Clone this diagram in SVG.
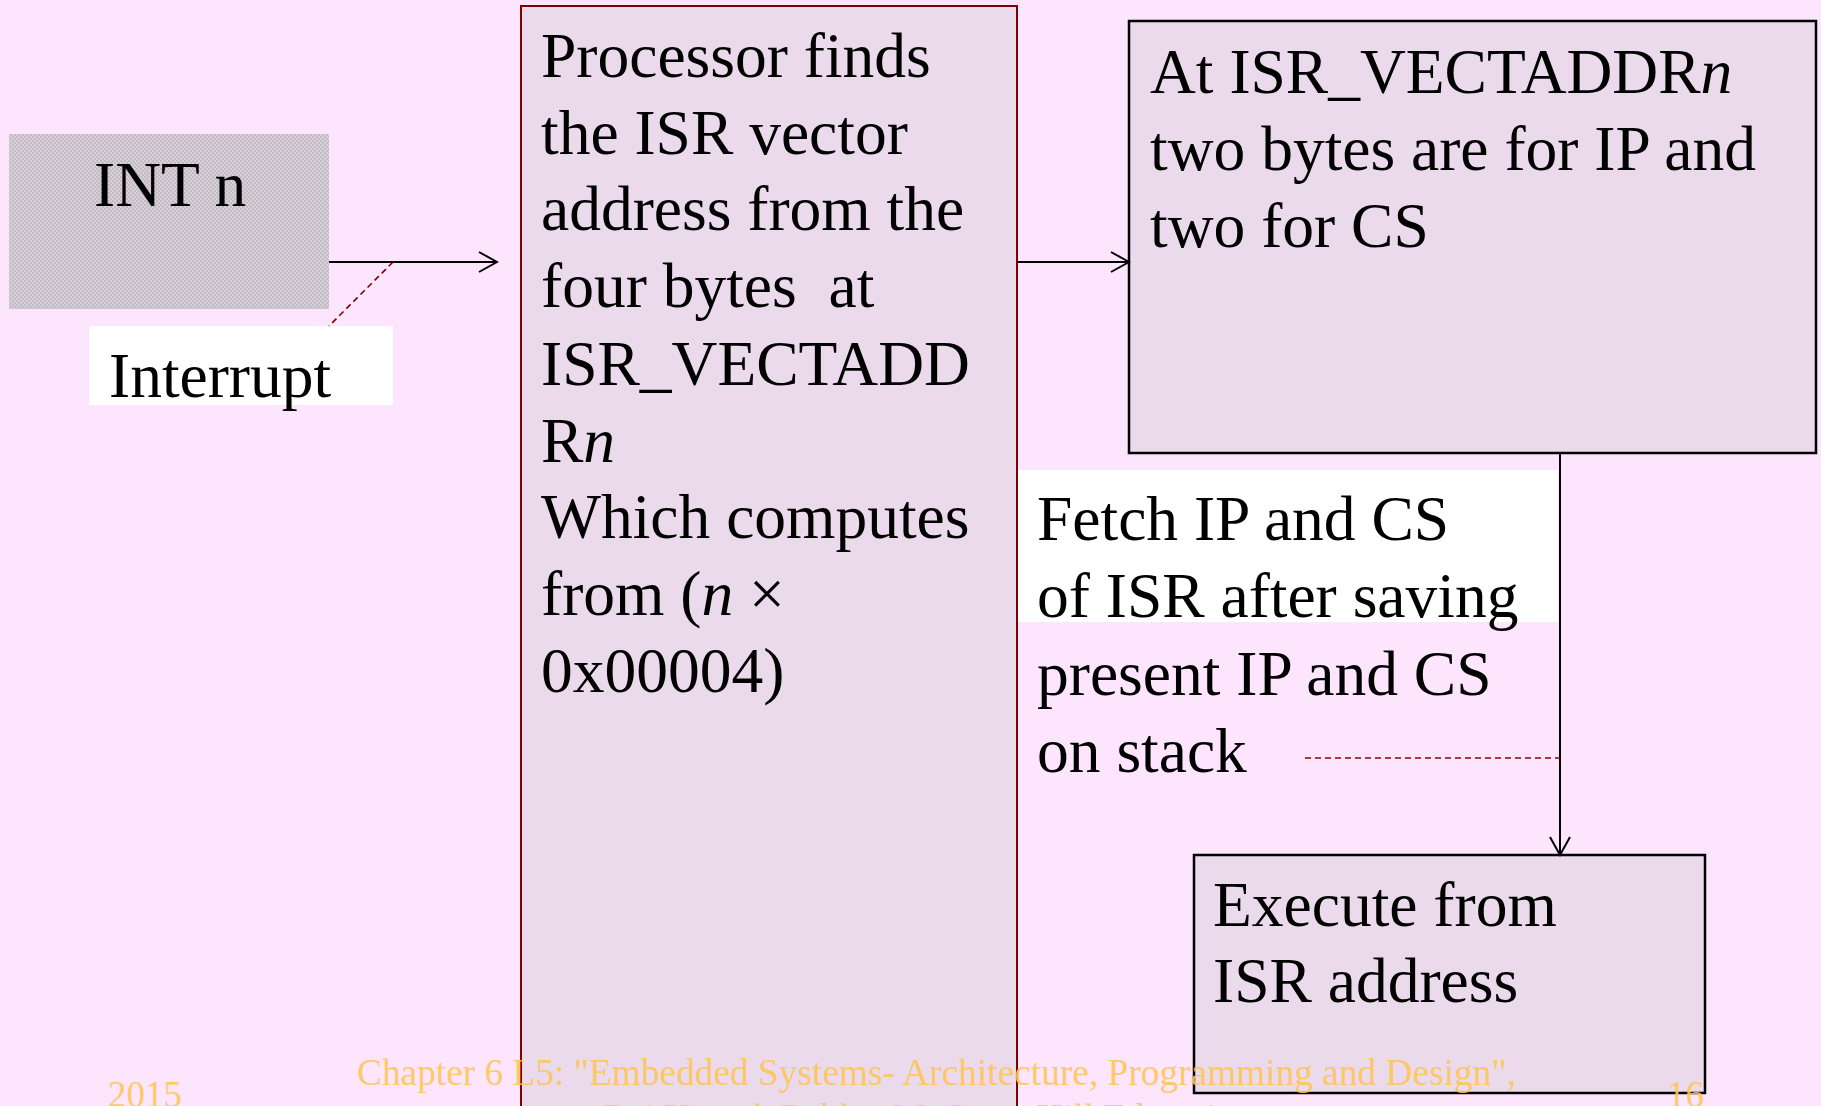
<svg xmlns="http://www.w3.org/2000/svg" width="1821" height="1106" viewBox="0 0 1821 1106">
<style>
.t{font-family:"Liberation Serif","Times New Roman",serif;font-size:63.5px;fill:#000}
.it{font-style:italic}
.foot{font-family:"Liberation Serif","Times New Roman",serif;font-size:37px;fill:#FFC552;fill-opacity:0.88}
.box{fill:#EBDAEC;stroke:#000;stroke-width:2.5}
.conn{stroke:#000;stroke-width:2;fill:none}
.callout{stroke:#8B0000;stroke-width:1.6;stroke-dasharray:6 4;fill:none}
</style>
<defs>
<pattern id="chk" width="4" height="4" patternUnits="userSpaceOnUse">
<rect width="4" height="4" fill="#D8D0D8"/>
<rect width="2" height="2" fill="#C4BAC4"/>
<rect x="2" y="2" width="2" height="2" fill="#C4BAC4"/>
</pattern>
<marker id="arr" markerWidth="22" markerHeight="24" refX="20" refY="12" orient="auto" markerUnits="userSpaceOnUse">
<path d="M2,2 L20,12 L2,22" fill="none" stroke="#000" stroke-width="2"/>
</marker>
</defs>
<rect width="1821" height="1106" fill="#FDE5FD"/>

<g id="int-n">
<rect x="9" y="134" width="320" height="175" fill="url(#chk)"/>
<text class="t" x="94" y="206">INT n</text>
</g>

<g id="interrupt-label">
<rect x="89" y="326" width="304" height="79" fill="#FFFFFF"/>
<text class="t" x="109" y="397">Interrupt</text>
</g>

<g id="processor">
<rect x="521" y="6" width="496" height="1120" fill="#EBDAEC" stroke="#800000" stroke-width="2"/>
<text class="t" xml:space="preserve"><tspan x="541" y="77">Processor finds</tspan><tspan x="541" y="154">the ISR vector</tspan><tspan x="541" y="230">address from the</tspan><tspan x="541" y="307">four bytes  at</tspan><tspan x="541" y="385">ISR_VECTADD</tspan><tspan x="541" y="462">R<tspan class="it">n</tspan></tspan><tspan x="541" y="538">Which computes</tspan><tspan x="541" y="615">from (<tspan class="it">n</tspan> ×</tspan><tspan x="541" y="692">0x00004)</tspan></text>
</g>

<g id="vectaddr">
<rect class="box" x="1129" y="21" width="687" height="432" stroke-width="2"/>
<text class="t">
<tspan x="1150" y="93">At ISR_VECTADDR<tspan class="it">n</tspan></tspan>
<tspan x="1150" y="170">two bytes are for IP and</tspan>
<tspan x="1150" y="247">two for CS</tspan>
</text>
</g>

<g id="fetch-label">
<rect x="1018" y="470" width="540" height="152" fill="#FFFFFF"/>
<text class="t">
<tspan x="1037" y="540">Fetch IP and CS</tspan>
<tspan x="1037" y="617">of ISR after saving</tspan>
<tspan x="1037" y="695">present IP and CS</tspan>
<tspan x="1037" y="772">on stack</tspan>
</text>
</g>

<g id="execute">
<rect class="box" x="1194" y="855" width="511" height="238" stroke-width="3"/>
<text class="t">
<tspan x="1213" y="926">Execute from</tspan>
<tspan x="1213" y="1002">ISR address</tspan>
</text>
</g>

<g id="connectors">
<line class="conn" x1="329" y1="262" x2="497" y2="262" marker-end="url(#arr)"/>
<line class="conn" x1="1017" y1="262" x2="1129" y2="262" marker-end="url(#arr)"/>
<line class="conn" x1="1560" y1="453" x2="1560" y2="855" marker-end="url(#arr)"/>
<line class="callout" x1="393" y1="262" x2="329" y2="326"/>
<line class="callout" x1="1305" y1="758" x2="1560" y2="758"/>
</g>

<g id="footer">
<text class="foot" x="108" y="1107">2015</text>
<text class="foot" x="357" y="1085" textLength="1159" lengthAdjust="spacingAndGlyphs">Chapter 6 L5: "Embedded Systems- Architecture, Programming and Design",</text>
<text class="foot" x="604" y="1130">Raj Kamal, Publs.: McGraw-Hill Education</text>
<text class="foot" x="1667" y="1107">16</text>
</g>
</svg>
